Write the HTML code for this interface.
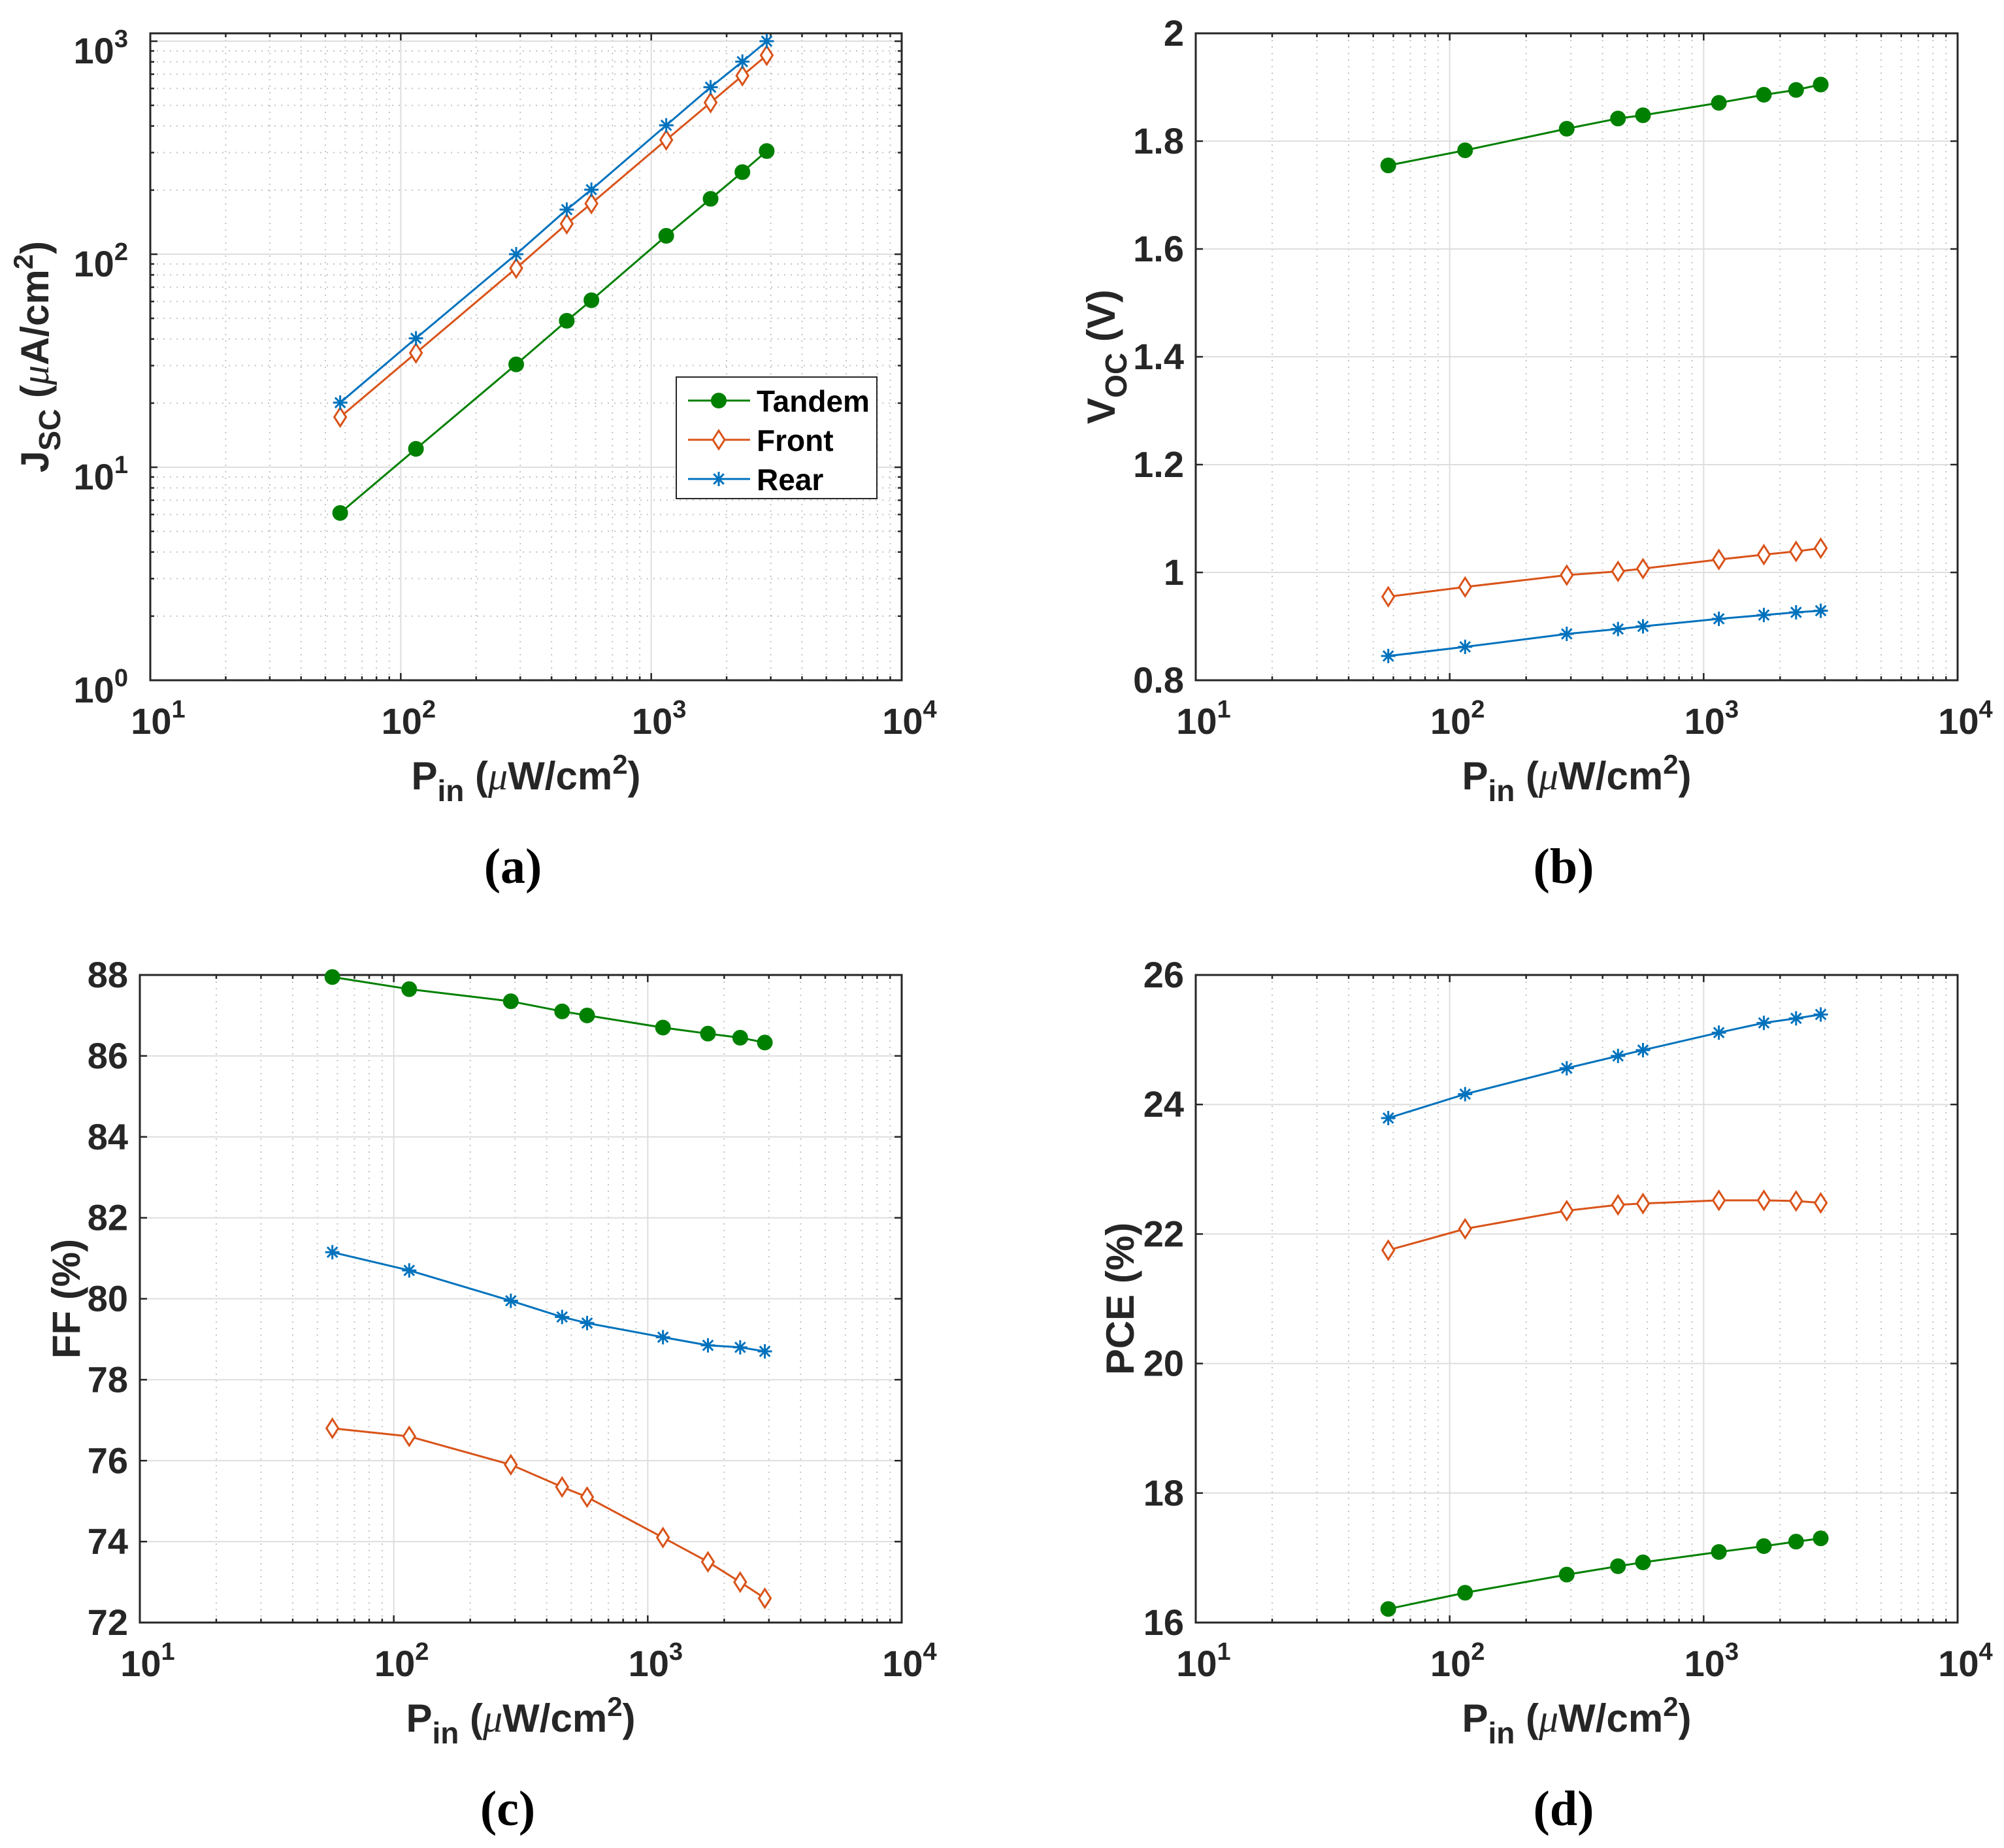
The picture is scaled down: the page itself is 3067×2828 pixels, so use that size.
<!DOCTYPE html>
<html><head><meta charset="utf-8">
<style>
html,body{margin:0;padding:0;background:#fff;}
svg{display:block;font-family:"Liberation Sans",Arial,sans-serif;}
</style></head>
<body>
<svg id="fig" width="3067" height="2828" viewBox="0 0 3067 2828" xmlns="http://www.w3.org/2000/svg"></svg>
<script>
// ---- data ----
const pin = [57.3, 115, 289, 460, 577, 1148, 1726, 2312, 2891];
const jscTandem = [6.1, 12.2, 30.4, 48.7, 60.8, 122, 182, 243, 305];
const jscFront = [17.2, 34.4, 86, 139, 173, 344, 515, 689, 859];
const jscRear = [20.1, 40.3, 100, 162, 201, 403, 608, 802, 1000];
const vocTandem = [1.755, 1.783, 1.823, 1.842, 1.848, 1.871, 1.886, 1.895, 1.905];
const vocFront = [0.955, 0.973, 0.995, 1.002, 1.007, 1.024, 1.033, 1.039, 1.045];
const vocRear = [0.845, 0.862, 0.886, 0.895, 0.900, 0.914, 0.921, 0.926, 0.929];
const ffTandem = [87.95, 87.65, 87.35, 87.1, 87.0, 86.7, 86.55, 86.45, 86.33];
const ffFront = [76.8, 76.6, 75.9, 75.35, 75.1, 74.1, 73.5, 73.0, 72.6];
const ffRear = [81.15, 80.7, 79.95, 79.55, 79.4, 79.05, 78.85, 78.8, 78.7];
const pceTandem = [16.21, 16.46, 16.74, 16.87, 16.93, 17.09, 17.18, 17.25, 17.30];
const pceFront = [21.75, 22.08, 22.36, 22.45, 22.47, 22.52, 22.52, 22.51, 22.48];
const pceRear = [23.79, 24.16, 24.56, 24.75, 24.84, 25.11, 25.26, 25.33, 25.39];
const xDecades = [1, 2, 3, 4];
const vocTicks = [0.8, 1, 1.2, 1.4, 1.6, 1.8, 2];
const vocTickLabels = ["0.8", "1", "1.2", "1.4", "1.6", "1.8", "2"];
const ffTicks = [72, 74, 76, 78, 80, 82, 84, 86, 88];
const pceTicks = [16, 18, 20, 22, 24, 26];
const seriesNames = ["Tandem", "Front", "Rear"];

const C = {Tandem:"#008000", Front:"#D95319", Rear:"#0072BD"};
const NS = "http://www.w3.org/2000/svg";
const svg = document.getElementById('fig');
function mk(tag, attrs, parent){
  const e = document.createElementNS(NS, tag);
  for (const k in attrs) e.setAttribute(k, attrs[k]);
  (parent||svg).appendChild(e);
  return e;
}
function sup(parent, x, y, base, exp, anchor, size){
  const t = mk('text', {x:x, y:y, 'font-size':size, 'font-weight':'bold', fill:'#262626', 'text-anchor':anchor}, parent);
  const b = document.createElementNS(NS,'tspan'); b.textContent = base; t.appendChild(b);
  const s = document.createElementNS(NS,'tspan'); s.setAttribute('dy', -size*0.45); s.setAttribute('font-size', size*0.68); s.textContent = exp; t.appendChild(s);
  return t;
}
function marker(g, kind, x, y){
  const col = C[kind];
  if (kind === 'Tandem') {
    const m = mk('circle', {cx:x, cy:y, r:11, fill:col, stroke:col, 'stroke-width':2}, g);
    
    
  } else if (kind === 'Front') {
    const m = mk('path', {d:`M${x},${y-14} L${x+9},${y} L${x},${y+14} L${x-9},${y} Z`, fill:'#fff', stroke:col, 'stroke-width':3}, g);
    
    
  } else {
    const r = 11, d = r*0.707;
    const m = mk('path', {d:`M${x-r},${y} H${x+r} M${x},${y-r} V${y+r} M${x-d},${y-d} L${x+d},${y+d} M${x-d},${y+d} L${x+d},${y-d}`, stroke:col, 'stroke-width':3, fill:'none'}, g);
    
    
  }
}
function panel(o){
  const g = mk('g', {});
  
  
  const L=o.L, R=o.R, T=o.T, B=o.B;
  const xs = v => L + (Math.log10(v) - 1) / 3 * (R - L);
  const ys = o.ylog
    ? v => B - (Math.log10(v) - o.ymin) / (o.ymax - o.ymin) * (B - T)
    : v => B - (v - o.ymin) / (o.ymax - o.ymin) * (B - T);
  const grid = mk('g', {}, g);
  
  
  for (let d = 1; d < 4; d++) {
    for (let k = 1; k < 10; k++) {
      const v = k * Math.pow(10, d), x = xs(v);
      if (k === 1) { if (d > 1) mk('line', {x1:x, x2:x, y1:T, y2:B, stroke:'#dedede', 'stroke-width':2}, grid); }
      else mk('line', {x1:x, x2:x, y1:T, y2:B, stroke:'#c4c4c4', 'stroke-width':2, 'stroke-dasharray':'2 8'}, grid);
      const tl = k === 1 ? 11 : 6;
      mk('line', {x1:x, x2:x, y1:B, y2:B-tl, stroke:'#262626', 'stroke-width':2.5}, g);
      mk('line', {x1:x, x2:x, y1:T, y2:T+tl, stroke:'#262626', 'stroke-width':2.5}, g);
    }
  }
  if (o.ylog) {
    for (let d = 0; d < 4; d++) {
      for (let k = 1; k < 10; k++) {
        const v = k * Math.pow(10, d); const y = ys(v);
        if (y < T - 1) continue;
        if (k === 1) { if (d > 0) mk('line', {x1:L, x2:R, y1:y, y2:y, stroke:'#dedede', 'stroke-width':2}, grid); }
        else mk('line', {x1:L, x2:R, y1:y, y2:y, stroke:'#c4c4c4', 'stroke-width':2, 'stroke-dasharray':'2 8'}, grid);
        const tl = k === 1 ? 11 : 6;
        mk('line', {x1:L, x2:L+tl, y1:y, y2:y, stroke:'#262626', 'stroke-width':2.5}, g);
        mk('line', {x1:R, x2:R-tl, y1:y, y2:y, stroke:'#262626', 'stroke-width':2.5}, g);
      }
      const t = sup(g, L - 34, ys(Math.pow(10, d)) + 34, '10', String(d), 'end', 56);
      
      
    }
  } else {
    o.yticks.forEach((v, i) => {
      const y = ys(v);
      if (i > 0 && i < o.yticks.length - 1) mk('line', {x1:L, x2:R, y1:y, y2:y, stroke:'#dedede', 'stroke-width':2}, grid);
      mk('line', {x1:L, x2:L+11, y1:y, y2:y, stroke:'#262626', 'stroke-width':2.5}, g);
      mk('line', {x1:R, x2:R-11, y1:y, y2:y, stroke:'#262626', 'stroke-width':2.5}, g);
      const t = mk('text', {x:L - 18, y:y + 19, 'font-size':56, 'font-weight':'bold', fill:'#262626', 'text-anchor':'end'}, g);
      t.textContent = o.ylabels[i];
      
      
    });
  }
  xDecades.forEach(d => {
    const t = sup(g, xs(Math.pow(10, d)) + 12, B + 82, '10', String(d), 'middle', 56);
    
    
  });
  const box = mk('rect', {x:L, y:T, width:R-L, height:B-T, fill:'none', stroke:'#262626', 'stroke-width':3}, g);
  
  
  o.series.forEach(([kind, vals]) => {
    const sg = mk('g', {}, g);
    
    
    const pts = pin.map((p, i) => xs(p).toFixed(1) + ',' + ys(vals[i]).toFixed(1)).join(' ');
    mk('polyline', {points:pts, fill:'none', stroke:C[kind], 'stroke-width':3}, sg);
    pin.forEach((p, i) => marker(sg, kind, xs(p), ys(vals[i])));
  });
  const xl = mk('text', {x:(L+R)/2, y:B + 167, 'font-size':60, 'font-weight':'bold', fill:'#262626', 'text-anchor':'middle'}, g);
  xl.innerHTML = 'P<tspan dy="18" font-size="46">in</tspan><tspan dy="-18"> (</tspan><tspan font-family="Liberation Serif" font-style="italic" font-weight="normal">μ</tspan>W/cm<tspan dy="-24" font-size="42">2</tspan><tspan dy="24">)</tspan>';
  
  
  const yl = mk('text', {x:0, y:0, 'font-size':60, 'font-weight':'bold', fill:'#262626', 'text-anchor':'middle', transform:`translate(${o.ylx},${(T+B)/2 + o.yoff}) rotate(-90)`}, g);
  yl.innerHTML = o.ytitle;
  
  
  const sl = mk('text', {x:(L+R)/2 - 20, y:B + 310, 'font-size':76, 'font-weight':'bold', fill:'#000', 'text-anchor':'middle', 'font-family':'Liberation Serif'}, g);
  sl.textContent = o.sub;
  
  
  return {g, xs, ys};
}

panel({name:'panel-a-jsc', L:230, R:1380, T:51, B:1041, ylog:true, ymin:0, ymax:3.037,
  series:[['Tandem', jscTandem], ['Front', jscFront], ['Rear', jscRear]],
  ylx:74, yoff:0, sub:'(a)',
  ytitle:'J<tspan dy="18" font-size="46">SC</tspan><tspan dy="-18"> (</tspan><tspan font-family="Liberation Serif" font-style="italic" font-weight="normal">μ</tspan>A/cm<tspan dy="-24" font-size="42">2</tspan><tspan dy="24">)</tspan>'});
panel({name:'panel-b-voc', L:1830, R:2996, T:51, B:1041, ylog:false, ymin:0.8, ymax:2, yticks:vocTicks, ylabels:vocTickLabels,
  series:[['Tandem', vocTandem], ['Front', vocFront], ['Rear', vocRear]],
  ylx:1706, yoff:0, sub:'(b)',
  ytitle:'V<tspan dy="18" font-size="46">OC</tspan><tspan dy="-18"> (V)</tspan>'});
panel({name:'panel-c-ff', L:214, R:1380, T:1492, B:2483, ylog:false, ymin:72, ymax:88, yticks:ffTicks, ylabels:ffTicks.map(String),
  series:[['Tandem', ffTandem], ['Front', ffFront], ['Rear', ffRear]],
  ylx:122, yoff:0, sub:'(c)', ytitle:'FF (%)'});
panel({name:'panel-d-pce', L:1830, R:2996, T:1492, B:2483, ylog:false, ymin:16, ymax:26, yticks:pceTicks, ylabels:pceTicks.map(String),
  series:[['Tandem', pceTandem], ['Front', pceFront], ['Rear', pceRear]],
  ylx:1735, yoff:0, sub:'(d)', ytitle:'PCE (%)'});

const lg = mk('g', {});


mk('rect', {x:1035, y:577, width:307, height:186, fill:'#fff', stroke:'#262626', 'stroke-width':2}, lg);
seriesNames.forEach((n, i) => {
  const y = 613 + i * 60;
  const e = mk('g', {}, lg);
  
  
  mk('line', {x1:1053, x2:1148, y1:y, y2:y, stroke:C[n], 'stroke-width':3}, e);
  marker(e, n, 1100, y);
  const t = mk('text', {x:1158, y:y + 17, 'font-size':46, 'font-weight':'bold', fill:'#000'}, e);
  t.textContent = n;
});
</script>
</body></html>
